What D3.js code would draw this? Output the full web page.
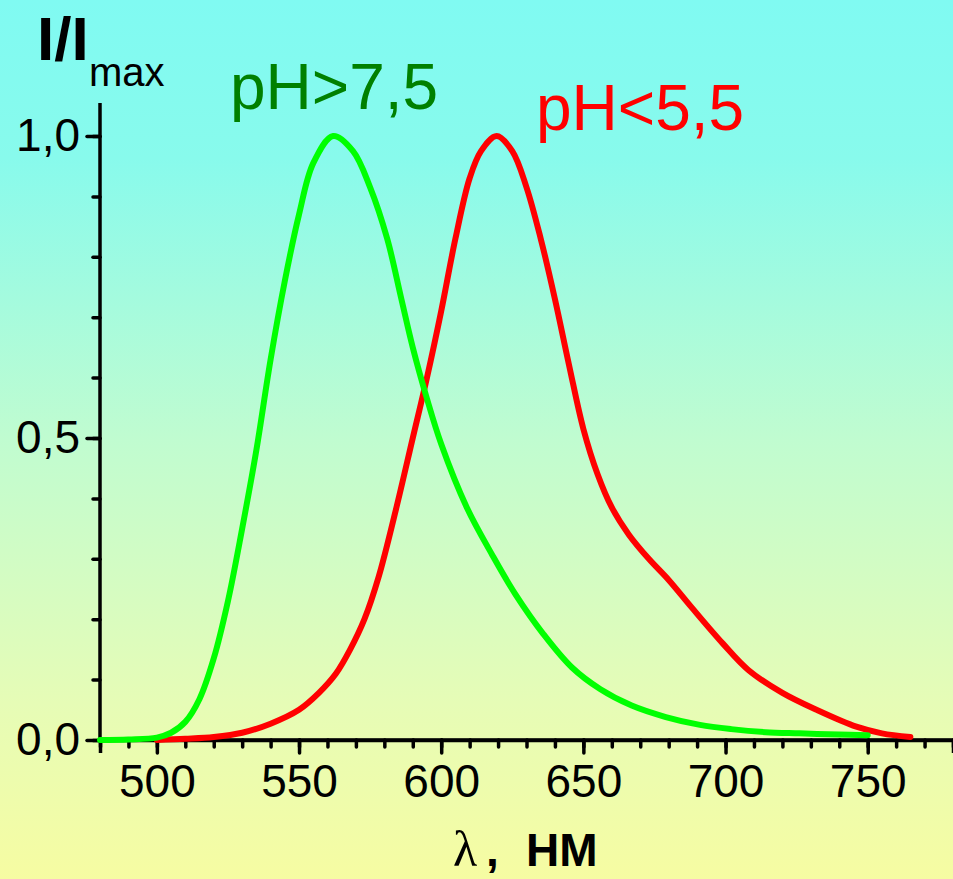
<!DOCTYPE html>
<html>
<head>
<meta charset="utf-8">
<script src="https://cdn.jsdelivr.net/npm/d3@7"></script>
<style>
  html, body { margin: 0; padding: 0; }
  body { width: 953px; height: 879px; overflow: hidden; }
  svg { display: block; }
</style>
</head>
<body>
<div id="chart"></div>
<script>
// pH > 7,5 (зелёная кривая): длина волны, нм / I/Imax
const greenWl = [480, 490, 500, 505, 510, 515, 520, 525, 530, 535, 540, 545, 550, 555, 562, 569, 575, 581, 586, 590, 595, 600, 609, 618, 626, 636, 646, 656, 667, 679, 691, 702, 714, 726, 740, 750]
const greenI  = [0, 0.001, 0.004, 0.012, 0.03, 0.068, 0.135, 0.23, 0.35, 0.48, 0.63, 0.76, 0.87, 0.955, 1.0, 0.975, 0.915, 0.83, 0.73, 0.65, 0.565, 0.49, 0.385, 0.306, 0.242, 0.175, 0.12, 0.084, 0.057, 0.038, 0.025, 0.018, 0.013, 0.011, 0.009, 0.008]

// pH < 5,5 (красная кривая)
const redWl = [500, 510, 520, 530, 540, 550, 557, 563, 568, 573, 578, 584, 590, 595, 600, 605, 610, 614, 619.5, 625, 630, 635, 640, 645, 650, 655, 660, 666, 673, 680, 688, 699, 708, 720, 732, 746, 755, 765]
const redI  = [0, 0.002, 0.005, 0.012, 0.027, 0.05, 0.078, 0.11, 0.15, 0.2, 0.27, 0.38, 0.50, 0.6, 0.71, 0.83, 0.93, 0.975, 1.0, 0.975, 0.915, 0.83, 0.73, 0.62, 0.515, 0.44, 0.385, 0.34, 0.30, 0.265, 0.22, 0.16, 0.116, 0.078, 0.05, 0.022, 0.011, 0.005]

const xMajorTicks = [500, 550, 600, 650, 700, 750]
const yMajorTicks = [0, 0.5, 1.0]
const yTickLabels = ["0,0", "0,5", "1,0"]

const width = 953, height = 879

const svg = d3.select("#chart").append("svg")
    .attr("width", width)
    .attr("height", height)

// фон с градиентом
const grad = svg.append("defs").append("linearGradient")
    .attr("id", "bg").attr("x1", 0).attr("y1", 0).attr("x2", 0).attr("y2", 1)
grad.selectAll("stop")
    .data([[0, "#80faf2"], [0.18, "#88faec"], [0.5, "#c0fcd0"], [0.8, "#e6fcb6"], [1, "#f6fca2"]])
    .join("stop")
    .attr("offset", d => d[0])
    .attr("stop-color", d => d[1])
svg.append("rect").attr("width", width).attr("height", height).attr("fill", "url(#bg)")

const x = d3.scaleLinear().domain([480, 780]).range([100, 953])
const y = d3.scaleLinear().domain([0, 1]).range([740, 136])

const font = "'Liberation Sans', Arial, sans-serif"

// Ось X
const xMinor = d3.range(480, 781, 10)
const gx = svg.append("g").attr("transform", `translate(0,${y(0)})`)
gx.append("g")
    .call(d3.axisBottom(x).tickValues(xMinor).tickSize(7).tickFormat(""))
gx.append("g")
    .call(d3.axisBottom(x).tickValues(xMajorTicks).tickSize(13).tickPadding(11).tickFormat(d3.format("d")))
gx.selectAll(".domain").attr("stroke", "#000").attr("stroke-width", 3.5)
gx.select(".domain").attr("d", `M${x(480)},0H${width}`)
gx.selectAll(".tick line").attr("stroke", "#000").attr("stroke-width", 3.5).attr("stroke-linecap", "round")
gx.selectAll(".tick text").attr("fill", "#000").style("font-family", font).style("font-size", "46px")

// Ось Y
const yMinor = d3.range(0, 11).map(i => i / 10)
const gy = svg.append("g").attr("transform", `translate(${x(480)},0)`)
gy.append("g")
    .call(d3.axisLeft(y).tickValues(yMinor).tickSize(7).tickFormat(""))
gy.append("g")
    .call(d3.axisLeft(y).tickValues(yMajorTicks).tickSize(13).tickPadding(7).tickFormat((d, i) => yTickLabels[i]))
gy.selectAll(".domain").remove()
gy.append("line")
    .attr("x1", 0).attr("x2", 0)
    .attr("y1", 103).attr("y2", y(0))
    .attr("stroke", "#000").attr("stroke-width", 3.5)
gy.selectAll(".tick line").attr("stroke", "#000").attr("stroke-width", 3.5).attr("stroke-linecap", "round")
gy.selectAll(".tick text").attr("fill", "#000").style("font-family", font).style("font-size", "46px")

// Кривые
const line = d3.line()
    .x(d => x(d[0]))
    .y(d => y(d[1]))
    .curve(d3.curveCatmullRom.alpha(0.5))

svg.append("path")
    .datum(d3.zip(redWl, redI))
    .attr("fill", "none")
    .attr("stroke", "#ff0000")
    .attr("stroke-width", 6)
    .attr("stroke-linecap", "round")
    .attr("stroke-linejoin", "round")
    .attr("d", line)

svg.append("path")
    .datum(d3.zip(greenWl, greenI))
    .attr("fill", "none")
    .attr("stroke", "#00ff00")
    .attr("stroke-width", 6)
    .attr("stroke-linecap", "round")
    .attr("stroke-linejoin", "round")
    .attr("d", line)

// Подписи
svg.append("text")
    .attr("x", 37).attr("y", 60)
    .style("font-family", font).style("font-size", "62px").style("font-weight", "bold")
    .attr("fill", "#000")
    .text("I/I")
svg.append("text")
    .attr("x", 89).attr("y", 86)
    .style("font-family", font).style("font-size", "40px")
    .attr("fill", "#000")
    .text("max")

svg.append("text")
    .attr("x", 230).attr("y", 109)
    .style("font-family", font).style("font-size", "64px")
    .attr("fill", "#008000")
    .text("pH>7,5")

svg.append("text")
    .attr("x", 536).attr("y", 130)
    .style("font-family", font).style("font-size", "64px")
    .attr("fill", "#ff0000")
    .text("pH<5,5")

// подпись оси X: λ, нм
const xl = svg.append("text")
    .attr("y", 866)
    .attr("fill", "#000")
xl.append("tspan")
    .attr("x", 453)
    .style("font-family", "'Liberation Serif', 'Times New Roman', serif")
    .style("font-size", "50px")
    .text("λ")
xl.append("tspan")
    .attr("x", 486)
    .style("font-family", font).style("font-size", "46px").style("font-weight", "bold")
    .text(",")
xl.append("tspan")
    .attr("x", 526)
    .style("font-family", font).style("font-size", "46px").style("font-weight", "bold")
    .text("НМ")
</script>
</body>
</html>
